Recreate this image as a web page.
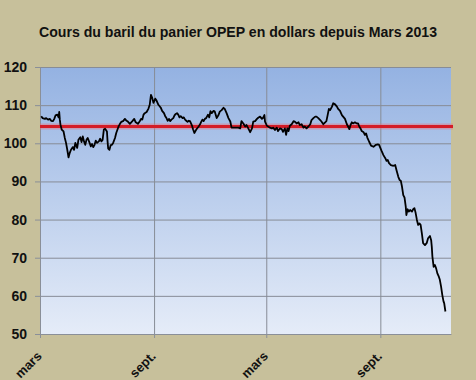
<!DOCTYPE html>
<html>
<head>
<meta charset="utf-8">
<script src="https://cdn.jsdelivr.net/npm/d3@7"></script>
<style>
    body { margin: 0; background: #c7c09b; }
    svg { display: block; font-family: 'Liberation Sans', Arial, sans-serif; }
</style>
</head>
<body>
<div id="chart"></div>
<script>
// prix du baril (panier OPEP)
var dates = [
    '2013-03-03', '2013-03-05', '2013-03-09', '2013-03-11', '2013-03-14', '2013-03-17', '2013-03-19', '2013-03-22', '2013-03-24', '2013-03-26', '2013-03-29', '2013-03-31',
    '2013-04-01', '2013-04-02', '2013-04-03', '2013-04-05', '2013-04-08', '2013-04-10', '2013-04-12', '2013-04-14', '2013-04-16', '2013-04-18', '2013-04-20', '2013-04-23', '2013-04-25', '2013-04-27', '2013-04-29', '2013-04-30',
    '2013-05-02', '2013-05-05', '2013-05-07', '2013-05-09', '2013-05-11', '2013-05-13', '2013-05-15', '2013-05-17', '2013-05-20', '2013-05-22', '2013-05-24', '2013-05-26', '2013-05-28', '2013-05-30',
    '2013-06-01', '2013-06-04', '2013-06-06', '2013-06-08', '2013-06-10', '2013-06-12', '2013-06-14', '2013-06-17', '2013-06-18', '2013-06-19', '2013-06-21', '2013-06-23', '2013-06-25', '2013-06-27', '2013-06-30',
    '2013-07-02', '2013-07-04', '2013-07-06', '2013-07-08', '2013-07-10', '2013-07-13', '2013-07-16', '2013-07-18', '2013-07-20', '2013-07-24', '2013-07-28', '2013-07-31',
    '2013-08-02', '2013-08-06', '2013-08-09', '2013-08-11', '2013-08-13', '2013-08-15', '2013-08-17', '2013-08-20', '2013-08-23', '2013-08-25', '2013-08-27', '2013-08-29', '2013-08-31',
    '2013-09-03', '2013-09-05', '2013-09-08', '2013-09-10', '2013-09-12', '2013-09-14', '2013-09-17', '2013-09-19', '2013-09-21', '2013-09-23', '2013-09-25', '2013-09-27', '2013-09-29',
    '2013-10-02', '2013-10-04', '2013-10-06', '2013-10-08', '2013-10-10', '2013-10-12', '2013-10-14', '2013-10-17', '2013-10-19', '2013-10-21', '2013-10-23', '2013-10-25', '2013-10-27', '2013-10-29',
    '2013-11-01', '2013-11-03', '2013-11-05', '2013-11-07', '2013-11-09', '2013-11-11', '2013-11-14', '2013-11-16', '2013-11-18', '2013-11-20', '2013-11-22', '2013-11-24', '2013-11-27', '2013-11-29',
    '2013-12-01', '2013-12-03', '2013-12-06', '2013-12-08', '2013-12-11', '2013-12-14', '2013-12-16', '2013-12-19', '2013-12-22', '2013-12-24', '2013-12-27', '2013-12-30',
    '2014-01-02', '2014-01-04', '2014-01-10', '2014-01-15', '2014-01-18', '2014-01-20', '2014-01-23', '2014-01-26', '2014-01-28', '2014-01-31',
    '2014-02-03', '2014-02-06', '2014-02-08', '2014-02-11', '2014-02-14', '2014-02-16', '2014-02-19', '2014-02-22', '2014-02-24', '2014-02-26', '2014-02-27',
    '2014-03-02', '2014-03-04', '2014-03-07', '2014-03-10', '2014-03-12', '2014-03-15', '2014-03-18', '2014-03-20', '2014-03-23', '2014-03-26', '2014-03-28', '2014-03-31',
    '2014-04-02', '2014-04-04', '2014-04-06', '2014-04-08', '2014-04-11', '2014-04-14', '2014-04-16', '2014-04-19', '2014-04-22', '2014-04-24', '2014-04-27', '2014-04-30',
    '2014-05-02', '2014-05-05', '2014-05-08', '2014-05-11', '2014-05-13', '2014-05-16', '2014-05-19', '2014-05-21', '2014-05-24', '2014-05-27', '2014-05-29',
    '2014-06-01', '2014-06-04', '2014-06-06', '2014-06-08', '2014-06-10', '2014-06-12', '2014-06-15', '2014-06-17', '2014-06-20', '2014-06-23', '2014-06-25', '2014-06-28',
    '2014-07-01', '2014-07-03', '2014-07-06', '2014-07-09', '2014-07-11', '2014-07-13', '2014-07-15', '2014-07-17', '2014-07-19', '2014-07-22', '2014-07-25', '2014-07-27', '2014-07-29', '2014-07-31',
    '2014-08-02', '2014-08-05', '2014-08-07', '2014-08-09', '2014-08-11', '2014-08-14', '2014-08-17', '2014-08-21', '2014-08-25', '2014-08-28', '2014-08-30',
    '2014-09-01', '2014-09-03', '2014-09-06', '2014-09-09', '2014-09-11', '2014-09-13', '2014-09-15', '2014-09-18', '2014-09-22', '2014-09-25', '2014-09-27', '2014-09-30',
    '2014-10-02', '2014-10-04', '2014-10-06', '2014-10-08', '2014-10-10', '2014-10-12', '2014-10-13', '2014-10-15', '2014-10-17', '2014-10-19', '2014-10-22', '2014-10-24', '2014-10-26', '2014-10-28', '2014-10-30',
    '2014-11-01', '2014-11-03', '2014-11-05', '2014-11-07', '2014-11-09', '2014-11-12', '2014-11-15', '2014-11-17', '2014-11-20', '2014-11-22', '2014-11-23', '2014-11-24', '2014-11-26', '2014-11-28', '2014-11-30',
    '2014-12-02', '2014-12-04', '2014-12-06', '2014-12-08', '2014-12-10', '2014-12-12', '2014-12-13', '2014-12-15'
];

var prices = [
    107.1, 106.6, 106.4, 106.6, 106.2, 106.4, 105.9, 105.8, 106.4, 107.3, 107.5, 106.8,
    108.2, 106.2, 104.9, 103.6, 103.1, 101.4, 100.1, 98.3, 96.3, 97.5, 98.3, 99.0, 98.3, 100.1, 99.2, 98.8,
    100.9, 101.6, 100.3, 101.8, 100.5, 99.6, 100.9, 101.4, 100.1, 99.2, 99.8, 99.0, 99.6, 100.7,
    100.1, 100.5, 101.2, 100.5, 100.9, 103.6, 103.8, 103.1, 100.5, 98.6, 98.3, 99.5, 99.6, 100.1, 101.4,
    102.7, 103.6, 104.5, 105.1, 105.6, 105.8, 106.4, 106.0, 105.8, 105.1, 105.8, 106.4,
    105.6, 105.1, 105.8, 106.4, 106.2, 107.5, 107.9, 108.2, 109.1, 110.1, 112.7, 111.9, 110.6,
    111.7, 111.2, 110.1, 109.7, 109.3, 108.5, 107.9, 107.1, 106.6, 105.9, 106.4, 105.8, 106.2,
    106.6, 107.3, 107.7, 107.9, 107.5, 106.8, 107.1, 106.6, 106.8, 106.2, 105.9, 105.6, 105.9, 105.8,
    104.7, 103.6, 102.7, 103.3, 103.8, 104.2, 104.9, 105.6, 106.2, 105.8, 106.4, 106.6, 107.5, 106.8,
    108.4, 107.9, 108.5, 108.3, 106.6, 107.4, 108.3, 108.7, 109.3, 109.0, 107.9, 106.6,
    105.7, 104.1, 104.1, 104.1, 103.9, 105.8, 105.2, 104.4, 104.8, 103.9,
    102.9, 103.9, 105.7, 105.8, 106.4, 106.7, 107.0, 106.4, 106.7, 107.4, 105.7,
    104.6, 104.4, 104.1, 103.9, 104.1, 103.5, 104.1, 103.2, 103.9, 103.7, 103.0, 103.9,
    102.2, 103.9, 103.2, 104.6, 105.0, 105.8, 105.7, 105.2, 105.5, 104.8, 105.0, 104.1,
    104.4, 103.9, 104.4, 105.0, 106.1, 106.6, 107.0, 107.0, 106.6, 106.1, 105.7,
    105.0, 105.5, 105.8, 107.4, 109.0, 108.7, 109.6, 110.5, 110.2, 109.6, 109.0, 108.5,
    107.4, 107.0, 106.4, 105.0, 104.4, 103.7, 104.8, 105.5, 105.2, 105.5, 105.2, 105.2, 104.4, 103.9,
    103.2, 102.9, 102.2, 102.6, 101.5, 100.4, 99.4, 99.1, 99.6, 99.7, 99.6,
    98.8, 98.0, 96.9, 96.1, 95.4, 95.6, 94.8, 94.3, 94.1, 94.3, 93.0, 91.2,
    90.4, 90.2, 88.6, 86.4, 85.8, 83.4, 81.2, 82.7, 82.1, 82.5, 82.1, 82.7, 83.0, 81.7, 79.9,
    78.6, 79.0, 78.6, 76.4, 73.8, 73.3, 73.9, 75.1, 75.7, 74.6, 72.9, 70.3, 67.6, 68.1, 67.2,
    65.9, 65.2, 64.2, 62.4, 60.2, 58.5, 58.1, 55.9
];

var averagePrice = 104.4;

var xDomain = ['2013-03-01', '2014-12-24'];
var xTickDates = ['2013-03-01', '2013-09-01', '2014-03-01', '2014-09-01'];
var xTickLabels = ['mars', 'sept.', 'mars', 'sept.'];
var yTicks = [50, 60, 70, 80, 90, 100, 110, 120];

var title = 'Cours du baril du panier OPEP en dollars depuis Mars 2013';

var width = 476;
var height = 380;
var margin = { top: 67, right: 25, bottom: 46, left: 40 };
var plotW = width - margin.left - margin.right;
var plotH = height - margin.top - margin.bottom;

var parseDate = d3.timeParse('%Y-%m-%d');

var data = dates.map(function(d, i) {
    return { date: parseDate(d), value: prices[i] };
});

var svg = d3
    .select('#chart')
    .append('svg')
    .attr('width', width)
    .attr('height', height);

var defs = svg.append('defs');
var grad = defs
    .append('linearGradient')
    .attr('id', 'plotBg')
    .attr('x1', 0)
    .attr('y1', 0)
    .attr('x2', 0)
    .attr('y2', 1);
grad.append('stop').attr('offset', '0%').attr('stop-color', '#94b2e2');
grad.append('stop').attr('offset', '100%').attr('stop-color', '#e5ecf8');

svg.append('text')
    .attr('x', 238)
    .attr('y', 37)
    .attr('text-anchor', 'middle')
    .attr('font-size', 14)
    .attr('font-weight', 'bold')
    .attr('fill', '#111')
    .attr('textLength', 398)
    .attr('lengthAdjust', 'spacingAndGlyphs')
    .text(title);

var g = svg
    .append('g')
    .attr('transform', 'translate(' + margin.left + ',' + margin.top + ')');

var x = d3
    .scaleTime()
    .domain(xDomain.map(parseDate))
    .range([0, plotW]);

var y = d3
    .scaleLinear()
    .domain([50, 120])
    .range([plotH, 0]);

g.append('rect')
    .attr('width', plotW)
    .attr('height', plotH)
    .attr('fill', 'url(#plotBg)');

// grille horizontale
g.append('g')
    .attr('class', 'grid')
    .call(
        d3
            .axisLeft(y)
            .tickValues(yTicks)
            .tickSize(-plotW)
            .tickFormat('')
    )
    .call(function(s) {
        s.select('.domain').remove();
        s.selectAll('line').attr('stroke', '#878c96');
    });

// grille verticale
g.append('g')
    .attr('class', 'grid')
    .attr('transform', 'translate(0,' + plotH + ')')
    .call(
        d3
            .axisBottom(x)
            .tickValues(xTickDates.map(parseDate))
            .tickSize(-plotH)
            .tickSizeOuter(0)
            .tickFormat('')
    )
    .call(function(s) {
        s.select('.domain').remove();
        s.selectAll('line').attr('stroke', '#878c96');
    });

// axe Y
g.append('g')
    .call(
        d3
            .axisLeft(y)
            .tickValues(yTicks)
            .tickSize(5)
            .tickSizeOuter(0)
            .tickPadding(8)
    )
    .call(function(s) {
        s.select('.domain').attr('stroke', '#8a8f98');
        s.selectAll('line').attr('stroke', '#8a8f98');
        s.selectAll('text')
            .attr('font-size', 14)
            .attr('font-weight', 'bold')
            .attr('fill', '#111')
            .attr('font-family', "'Liberation Sans', Arial, sans-serif");
    });

// axe X
g.append('g')
    .attr('transform', 'translate(0,' + plotH + ')')
    .call(
        d3
            .axisBottom(x)
            .tickValues(xTickDates.map(parseDate))
            .tickSize(4)
            .tickSizeOuter(0)
            .tickFormat(function(d, i) {
                return xTickLabels[i];
            })
    )
    .call(function(s) {
        s.select('.domain').attr('stroke', '#8a8f98');
        s.selectAll('line').attr('stroke', '#8a8f98');
        s.selectAll('text')
            .attr('font-size', 13)
            .attr('font-weight', 'bold')
            .attr('fill', '#111')
            .attr('font-family', "'Liberation Sans', Arial, sans-serif")
            .attr('text-anchor', 'end')
            .attr('dy', null)
            .attr('y', 0)
            .attr('transform', 'translate(2,23) rotate(-45)');
    });

// ligne de la moyenne
g.append('line')
    .attr('x1', 0)
    .attr('x2', plotW + 2)
    .attr('y1', y(averagePrice))
    .attr('y2', y(averagePrice))
    .attr('stroke', '#e8707a')
    .attr('stroke-opacity', 0.45)
    .attr('stroke-width', 6);

g.append('line')
    .attr('x1', 0)
    .attr('x2', plotW + 2)
    .attr('y1', y(averagePrice))
    .attr('y2', y(averagePrice))
    .attr('stroke', '#d41c27')
    .attr('stroke-width', 2.8);

// cours
g.append('path')
    .datum(data)
    .attr('fill', 'none')
    .attr('stroke', '#000')
    .attr('stroke-width', 1.8)
    .attr('stroke-linejoin', 'round')
    .attr(
        'd',
        d3
            .line()
            .x(function(d) {
                return x(d.date);
            })
            .y(function(d) {
                return y(d.value);
            })
    );
</script>
</body>
</html>
